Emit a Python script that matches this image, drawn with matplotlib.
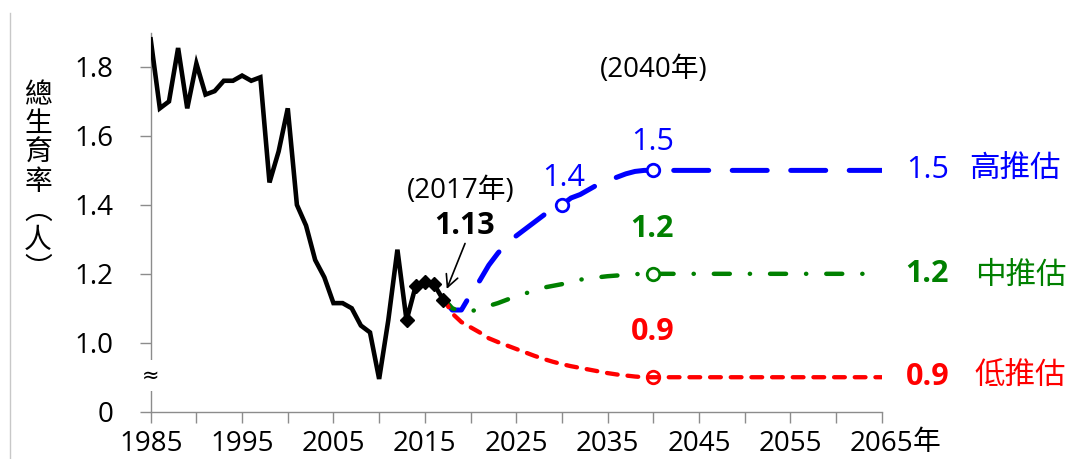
import matplotlib
matplotlib.use('Agg')
import matplotlib.pyplot as plt
from matplotlib.lines import Line2D

FAM = ['Open Sans', 'Noto Sans CJK TC', 'DejaVu Sans']
plt.rcParams['font.family'] = FAM

# ---------------- data ----------------
hist_years = list(range(1985, 2018))
hist_tfr = [1.88, 1.68, 1.70, 1.855, 1.68, 1.81, 1.72, 1.73, 1.76, 1.76,
            1.775, 1.76, 1.77, 1.465, 1.555, 1.68, 1.40, 1.34, 1.24, 1.19,
            1.115, 1.115, 1.10, 1.05, 1.03, 0.895, 1.065, 1.27, 1.065, 1.165,
            1.175, 1.17, 1.125]

proj_years = [2017, 2018, 2019, 2020, 2021, 2022, 2023, 2024, 2025, 2026,
              2027, 2028, 2029, 2030, 2031, 2032, 2033, 2034, 2035, 2036,
              2037, 2038, 2039, 2040, 2065]
high_tfr = [1.13, 1.095, 1.095, 1.14, 1.18, 1.225, 1.26, 1.29, 1.31, 1.33,
            1.35, 1.37, 1.39, 1.40, 1.42, 1.43, 1.445, 1.46, 1.47, 1.48,
            1.49, 1.497, 1.50, 1.50, 1.50]
mid_tfr = [1.13, 1.10, 1.09, 1.09, 1.10, 1.107, 1.115, 1.125, 1.135, 1.143,
           1.152, 1.16, 1.165, 1.17, 1.177, 1.183, 1.187, 1.19, 1.193, 1.195,
           1.197, 1.199, 1.20, 1.20, 1.20]
low_tfr = [1.13, 1.085, 1.06, 1.045, 1.03, 1.013, 1.002, 0.992, 0.982, 0.972,
           0.962, 0.953, 0.945, 0.938, 0.932, 0.927, 0.922, 0.917, 0.912, 0.908,
           0.905, 0.902, 0.90, 0.90, 0.90]

y_ticks = [0.8, 1.0, 1.2, 1.4, 1.6, 1.8]
y_ticklabels = ['0', '1.0', '1.2', '1.4', '1.6', '1.8']
x_major = [1985, 1995, 2005, 2015, 2025, 2035, 2045, 2055, 2065]
x_minor = [1990, 2000, 2010, 2020, 2030, 2040, 2050, 2060]

BLUE = '#0000FF'
GREEN = '#008000'
RED = '#FF0000'
AXC = '#8C8C8C'

W, H = 1068, 459
fig = plt.figure(figsize=(W / 100, H / 100), dpi=100)
ax = fig.add_axes([150.7 / W, 1 - 411.7 / H, (881.7 - 150.7) / W, (411.7 - 32.5) / H])
ax.set_xlim(1985, 2065)
ax.set_ylim(0.8, 1.9)

# historical line
diamond_idx = [hist_years.index(y) for y in range(2013, 2018)]
ax.plot(hist_years, hist_tfr, color='black', lw=3.3, solid_joinstyle='miter',
        marker='D', markersize=7, markevery=diamond_idx, zorder=5)

circ_hi = [proj_years.index(2030), proj_years.index(2040)]
circ_40 = [proj_years.index(2040)]

l_hi, = ax.plot(proj_years, high_tfr, color=BLUE, lw=3.6, dash_capstyle='round',
                marker='o', markersize=9, markeredgewidth=2, markerfacecolor='white',
                markevery=circ_hi, zorder=4)
l_hi.set_dashes((7.0, 4.7))
l_mid, = ax.plot(proj_years, mid_tfr, color=GREEN, lw=3.2, dash_capstyle='round',
                 marker='o', markersize=9, markeredgewidth=2, markerfacecolor='white',
                 markevery=circ_40, zorder=4)
l_mid.set_dashes((3.6, 4.5, 0.05, 4.5))
l_low, = ax.plot(proj_years, low_tfr, color=RED, lw=3.1, dash_capstyle='round',
                 marker='o', markersize=9, markeredgewidth=2, markerfacecolor='none',
                 markevery=circ_40, zorder=4)
l_low.set_dashes((2.5, 2.3))

# axes styling
for s in ['top', 'right']:
    ax.spines[s].set_visible(False)
for s in ['left', 'bottom']:
    ax.spines[s].set_color(AXC)
    ax.spines[s].set_linewidth(1.0)
ax.set_yticks(y_ticks)
ax.set_yticklabels(y_ticklabels)
ax.set_xticks(x_major)
ax.set_xticks(x_minor, minor=True)
ax.set_xticklabels([str(v) for v in x_major])
ax.tick_params(axis='y', direction='out', length=7.7, width=1, color=AXC,
               pad=19, labelsize=20, labelcolor='black')
ax.tick_params(axis='x', which='both', direction='out', length=8, width=1, color=AXC,
               pad=5, labelsize=20, labelcolor='black')
ax.tick_params(axis='x', which='minor', labelbottom=False)

# axis break sign
ax.text(1985, 0.905, '≈', ha='center', va='center', fontsize=15, color='black',
        family=['DejaVu Sans'], clip_on=False, zorder=10,
        bbox=dict(boxstyle='square,pad=0.25', fc='white', ec='none'))
# 年 after last tick label
ax.text(2068.4, 0.8 - 31.3 / 345, '年', ha='left', va='center', fontsize=20,
        color='black', clip_on=False)

# annotations
ax.text(2040, 1.79, '(2040年)', ha='center', va='center', fontsize=20, color='black')
ax.text(2039.9, 1.581, '1.5', ha='center', va='center', fontsize=22, color=BLUE)
ax.text(2030.2, 1.479, '1.4', ha='center', va='center', fontsize=22, color=BLUE)
ax.text(2039.9, 1.330, '1.2', ha='center', va='center', fontsize=22, color=GREEN,
        fontweight='bold')
ax.text(2039.9, 1.030, '0.9', ha='center', va='center', fontsize=22, color=RED,
        fontweight='bold')
ax.text(2018.96, 1.4406, '(2017年)', ha='center', va='center', fontsize=20, color='black')
ax.text(2019.3, 1.339, '1.13', ha='center', va='center', fontsize=22, color='black',
        fontweight='bold')
ax.annotate('', xy=(2017.4, 1.156), xytext=(2019.4, 1.288),
            arrowprops=dict(arrowstyle='->', color='black', lw=1.2,
                            mutation_scale=22, shrinkA=0, shrinkB=0))

ax.text(2070.0, 1.50, '1.5', ha='center', va='center', fontsize=22, color=BLUE,
        clip_on=False)
ax.text(2079.6, 1.50, '高推估', ha='center', va='center', fontsize=22, color=BLUE,
        clip_on=False)
ax.text(2070.0, 1.20, '1.2', ha='center', va='center', fontsize=22, color=GREEN,
        fontweight='bold', clip_on=False)
ax.text(2080.2, 1.195, '中推估', ha='center', va='center', fontsize=22, color=GREEN,
        clip_on=False)
ax.text(2070.0, 0.90, '0.9', ha='center', va='center', fontsize=22, color=RED,
        fontweight='bold', clip_on=False)
ax.text(2080.2, 0.90, '低推估', ha='center', va='center', fontsize=22, color=RED,
        clip_on=False)

# vertical y label
fig.text(38 / W, 1 - 182 / H, '總\n生\n育\n率\n︵\n人\n︶', ha='center', va='center',
         fontsize=20, linespacing=0.95, color='black',
         family=['Noto Sans CJK TC', 'DejaVu Sans'])

# left frame line
fig.add_artist(Line2D([9.5 / W, 9.5 / W], [0, 1 - 13 / H], color='#C8C8C8', lw=1))

fig.savefig('out.png', dpi=100)
